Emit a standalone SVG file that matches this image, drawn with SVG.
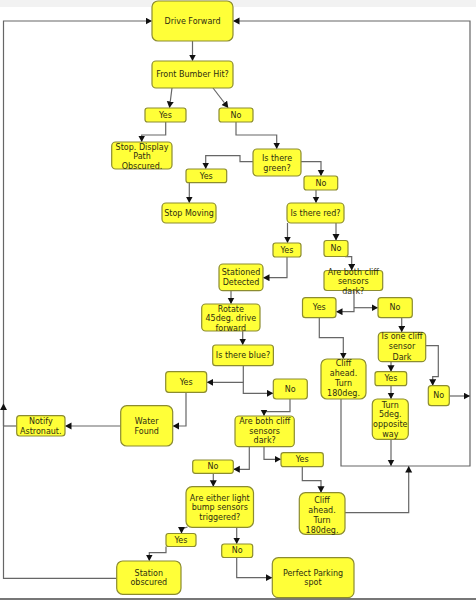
<svg xmlns="http://www.w3.org/2000/svg" width="476" height="600" viewBox="0 0 476 600">
<style>
.n rect{fill:#ffff38;stroke:#8c8c30;stroke-width:1.2}
.n text{font-family:"DejaVu Sans",Verdana,sans-serif;font-size:8px;fill:#2e2e10;text-anchor:middle;dominant-baseline:central}
.c path{fill:none;stroke:#666;stroke-width:1.2}
</style>
<defs>
<marker id="a" markerUnits="userSpaceOnUse" markerWidth="8" markerHeight="8" refX="6" refY="3.5" orient="auto">
<path d="M0,0 L6.5,3.5 L0,7 Z" fill="#111"/>
</marker>
</defs>
<rect x="0" y="0" width="476" height="600" fill="#fff"/>
<rect x="0" y="0" width="476" height="7" fill="#f2f2f2"/>
<rect x="0" y="598" width="476" height="2" fill="#777"/>
<g class="c" id="connectors">
<path d="M116.7 578.3 H3.5 V21 H151.5" marker-end="url(#a)"/>
<path d="M3.5 426 V404" marker-end="url(#a)"/>
<path d="M341 399 V466 H470 V21 H233.5" marker-end="url(#a)"/>
<path d="M449.3 396 H469.5" marker-end="url(#a)"/>
<path d="M391 439.3 V465.5" marker-end="url(#a)"/>
<path d="M345 512.7 H408.7 V466.5" marker-end="url(#a)"/>
<path d="M192.5 41 V60.5" marker-end="url(#a)"/>
<path d="M172 88 L169.5 107.5" marker-end="url(#a)"/>
<path d="M213 88 L228 107.5" marker-end="url(#a)"/>
<path d="M165.7 122 V135 H141.7 V141.5" marker-end="url(#a)"/>
<path d="M236 122 V135 H276.7 V148.5" marker-end="url(#a)"/>
<path d="M253 161.7 H240 V155.7 H205.7 V168.5" marker-end="url(#a)"/>
<path d="M189.3 182.7 V202.5" marker-end="url(#a)"/>
<path d="M301 161.7 H321 V175.5" marker-end="url(#a)"/>
<path d="M316 190 V202.5" marker-end="url(#a)"/>
<path d="M287.5 223 V242.5" marker-end="url(#a)"/>
<path d="M336 223 V240" marker-end="url(#a)"/>
<path d="M287 257 V277.7 H263.5" marker-end="url(#a)"/>
<path d="M345 256.7 H351.7 V270" marker-end="url(#a)"/>
<path d="M231 290.7 V303.5" marker-end="url(#a)"/>
<path d="M354 291 V311.7 H336.5" marker-end="url(#a)"/>
<path d="M354 307.7 H377.5" marker-end="url(#a)"/>
<path d="M242.7 331 V344.5" marker-end="url(#a)"/>
<path d="M319.3 318 V337.7 H343.3 V358.5" marker-end="url(#a)"/>
<path d="M401.7 318 V331.8" marker-end="url(#a)"/>
<path d="M391 361.7 V371.2" marker-end="url(#a)"/>
<path d="M391 385.7 V398.5" marker-end="url(#a)"/>
<path d="M425.7 345.7 H438.3 V376.7 H432.7 V385.2" marker-end="url(#a)"/>
<path d="M243.3 365.7 V393.3 H272.8" marker-end="url(#a)"/>
<path d="M243.3 382.3 H207.2" marker-end="url(#a)"/>
<path d="M290 399 V411.7 H264 V415.5" marker-end="url(#a)"/>
<path d="M186 392.3 V426 H173.2" marker-end="url(#a)"/>
<path d="M120.7 426 H65.5" marker-end="url(#a)"/>
<path d="M16.7 426 H3.5"/>
<path d="M249.3 446.7 V469.3 H233.8" marker-end="url(#a)"/>
<path d="M264 446.7 V459.3 H280.5" marker-end="url(#a)"/>
<path d="M302.3 466.7 V480.7 H321 V492.2" marker-end="url(#a)"/>
<path d="M213.3 473.3 V486.2" marker-end="url(#a)"/>
<path d="M187.5 527 L181.5 529 V533" marker-end="url(#a)"/>
<path d="M166 546.5 V552.7 H149.3 V560.5" marker-end="url(#a)"/>
<path d="M236.7 527.3 V543.5" marker-end="url(#a)"/>
<path d="M236.7 557.7 V577.7 H271.8" marker-end="url(#a)"/>
</g>
<g class="n" id="drive-forward"><rect x="152" y="1" width="81" height="40" rx="6"/><text x="192.5" y="21">Drive Forward</text></g>
<g class="n" id="front-bumper"><rect x="152" y="61" width="81" height="27" rx="4"/><text x="192.5" y="74.5">Front Bumber Hit?</text></g>
<g class="n" id="yes1"><rect x="145" y="108" width="41" height="14" rx="2.5"/><text x="165.5" y="115">Yes</text></g>
<g class="n" id="no1"><rect x="219" y="108" width="34" height="14" rx="2.5"/><text x="236" y="115">No</text></g>
<g class="n" id="stop-display"><rect x="111.7" y="142" width="60.3" height="27" rx="4"/><text x="142" y="147">Stop. Display</text><text x="142" y="156.5">Path</text><text x="142" y="166">Obscured.</text></g>
<g class="n" id="green"><rect x="253" y="149" width="48" height="27" rx="4"/><text x="277" y="158">Is there</text><text x="277" y="168">green?</text></g>
<g class="n" id="yes2"><rect x="186" y="169" width="40.7" height="13.7" rx="2.5"/><text x="206.3" y="176">Yes</text></g>
<g class="n" id="stop-moving"><rect x="162" y="203" width="54" height="20" rx="4"/><text x="189" y="213">Stop Moving</text></g>
<g class="n" id="no2"><rect x="304" y="176" width="33.7" height="14" rx="2.5"/><text x="321" y="183">No</text></g>
<g class="n" id="red"><rect x="287" y="203" width="57" height="20" rx="4"/><text x="315.5" y="213">Is there red?</text></g>
<g class="n" id="yes3"><rect x="273" y="243" width="28" height="14" rx="2.5"/><text x="287" y="250">Yes</text></g>
<g class="n" id="no3"><rect x="324" y="240.5" width="24" height="16" rx="2.5"/><text x="336" y="248.5">No</text></g>
<g class="n" id="stationed"><rect x="219" y="264" width="44" height="26.7" rx="4"/><text x="241" y="272.7">Stationed</text><text x="241" y="282">Detected</text></g>
<g class="n" id="cliff-right"><rect x="324" y="270.5" width="58.7" height="20" rx="3"/><text x="353.3" y="272">Are both cliff</text><text x="353.3" y="281.7">sensors</text><text x="353.3" y="291.2">dark?</text></g>
<g class="n" id="rotate"><rect x="201.7" y="304" width="58.3" height="27" rx="4"/><text x="230.8" y="309">Rotate</text><text x="230.8" y="318.7">45deg. drive</text><text x="230.8" y="328">forward</text></g>
<g class="n" id="yes4"><rect x="302.5" y="297.7" width="33.5" height="20" rx="3"/><text x="319.3" y="307.7">Yes</text></g>
<g class="n" id="no4"><rect x="378" y="297.7" width="34.3" height="20" rx="3"/><text x="395" y="307.7">No</text></g>
<g class="n" id="blue"><rect x="212.7" y="345" width="60.7" height="20.7" rx="3"/><text x="243" y="355.3">Is there blue?</text></g>
<g class="n" id="one-cliff"><rect x="378.3" y="332.3" width="47.4" height="29.4" rx="4"/><text x="402" y="336.7">Is one cliff</text><text x="402" y="346.7">sensor</text><text x="402" y="357.3">Dark</text></g>
<g class="n" id="cliff-ahead-1"><rect x="321" y="359" width="45" height="40" rx="6"/><text x="343.5" y="363.5">Cliff</text><text x="343.5" y="373.5">ahead.</text><text x="343.5" y="383.5">Turn</text><text x="343.5" y="393.8">180deg.</text></g>
<g class="n" id="yes5"><rect x="375" y="371.7" width="31.7" height="14" rx="2.5"/><text x="391" y="378.7">Yes</text></g>
<g class="n" id="no5"><rect x="428.3" y="385.7" width="21" height="20" rx="3"/><text x="438.8" y="395.7">No</text></g>
<g class="n" id="turn-5"><rect x="372.3" y="399" width="36" height="40.3" rx="5"/><text x="390.3" y="405">Turn</text><text x="390.3" y="414.5">5deg.</text><text x="390.3" y="424.3">opposite</text><text x="390.3" y="434">way</text></g>
<g class="n" id="yes7"><rect x="165.7" y="371.7" width="41" height="20.6" rx="3"/><text x="186.2" y="382">Yes</text></g>
<g class="n" id="no7"><rect x="273.3" y="379" width="34" height="20" rx="3"/><text x="290.3" y="389">No</text></g>
<g class="n" id="water"><rect x="120.7" y="405.7" width="52" height="40.3" rx="6"/><text x="146.7" y="421.7">Water</text><text x="146.7" y="431">Found</text></g>
<g class="n" id="notify"><rect x="16.7" y="415.7" width="48.3" height="20.3" rx="3"/><text x="40.8" y="421.7">Notify</text><text x="40.8" y="431">Astronaut.</text></g>
<g class="n" id="cliff-left"><rect x="235" y="416" width="59.3" height="30.7" rx="4"/><text x="264.7" y="421.7">Are both cliff</text><text x="264.7" y="431">sensors</text><text x="264.7" y="440.7">dark?</text></g>
<g class="n" id="yes6"><rect x="281" y="452.7" width="42.3" height="14" rx="2.5"/><text x="302.2" y="459.7">Yes</text></g>
<g class="n" id="no8"><rect x="192.7" y="460" width="40.6" height="13.3" rx="2.5"/><text x="213" y="466.7">No</text></g>
<g class="n" id="cliff-ahead-2"><rect x="299.3" y="492.7" width="45.7" height="41.6" rx="6"/><text x="322" y="500">Cliff</text><text x="322" y="510">ahead.</text><text x="322" y="520">Turn</text><text x="322" y="530">180deg.</text></g>
<g class="n" id="light-bump"><rect x="186" y="486.7" width="67.5" height="40.6" rx="6"/><text x="219.8" y="498.3">Are either light</text><text x="219.8" y="507.7">bump sensors</text><text x="219.8" y="517.3">triggered?</text></g>
<g class="n" id="yes9"><rect x="166" y="533.5" width="30" height="13" rx="2.5"/><text x="181" y="540">Yes</text></g>
<g class="n" id="no9"><rect x="221.7" y="544" width="31" height="13.5" rx="2.5"/><text x="237.2" y="550.7">No</text></g>
<g class="n" id="station-obscured"><rect x="116.7" y="561" width="64.3" height="33.3" rx="6"/><text x="148.8" y="573.3">Station</text><text x="148.8" y="582.7">obscured</text></g>
<g class="n" id="perfect-parking"><rect x="272.3" y="557.7" width="81.7" height="40" rx="6"/><text x="313" y="573.3">Perfect Parking</text><text x="313" y="582.7">spot</text></g>
</svg>
